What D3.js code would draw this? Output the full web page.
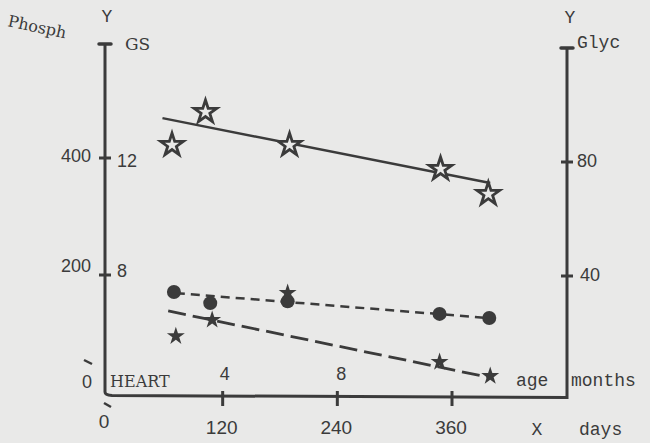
<!DOCTYPE html>
<html>
<head>
<meta charset="utf-8">
<script src="https://cdn.jsdelivr.net/npm/d3@7"></script>
<style>
  body { margin: 0; background: #e9e9e8; }
  svg { display: block; }
</style>
</head>
<body>
<script>
// values (x in days)
let openStarDays = [67, 102, 190, 348, 398];
let openStarGlyc = [86.3, 97.9, 86.3, 77.9, 69.1];
let openLineDays = [57, 400];
let openLineGlyc = [95.4, 72.6];

let dotDays = [69, 107, 188, 347, 399];
let dotGS = [7.42, 7.04, 7.1, 6.67, 6.53];
let dotLineDays = [71, 398];
let dotLineGS = [7.38, 6.53];

let starDays = [71, 109, 188, 347, 400];
let starPhosph = [97, 125, 171, 53, 29];
let starLineDays = [63, 402];
let starLinePhosph = [138.5, 23.9];

let dayTicks = [120, 240, 360];
let monthTicks = [4, 8];
let phosphTicks = [200, 400];
let gsTicks = [8, 12];
let glycTicks = [40, 80];

let width = 650, height = 443;
let ink = "#3b3b3b";
let bg = "#e9e9e8";

let svg = d3.select("body").append("svg")
  .attr("width", width)
  .attr("height", height);

svg.append("rect").attr("width", width).attr("height", height).attr("fill", bg);

//scales
let x = d3.scaleLinear().domain([0, 360]).range([108, 452]);
let xMonths = d3.scaleLinear().domain([0, 12]).range([108, 458]);
let yPhosph = d3.scaleLinear().domain([0, 400]).range([392, 158]);
let yGS = d3.scaleLinear().domain([8, 12]).range([275, 158]);
let yGlyc = d3.scaleLinear().domain([0, 80]).range([390, 162]);

let leftX = 105, rightX = 567;

//axis frame
svg.append("path")
  .attr("d", "M" + leftX + ",44 L" + leftX + ",392 Q" + leftX + ",395 112,395.5 L" + rightX + ",397.5 L" + rightX + ",48")
  .attr("fill", "none")
  .attr("stroke", ink)
  .attr("stroke-width", 3);

svg.append("line").attr("x1", leftX - 6).attr("x2", leftX + 6).attr("y1", 44).attr("y2", 44)
  .attr("stroke", ink).attr("stroke-width", 3.5).attr("stroke-linecap", "round");
svg.append("line").attr("x1", rightX - 6).attr("x2", rightX + 6).attr("y1", 48).attr("y2", 48)
  .attr("stroke", ink).attr("stroke-width", 3.5).attr("stroke-linecap", "round");

//axis break marks
svg.append("line").attr("x1", 84).attr("y1", 360).attr("x2", 92).attr("y2", 364)
  .attr("stroke", ink).attr("stroke-width", 2.5);
svg.append("line").attr("x1", 104).attr("y1", 403).attr("x2", 111).attr("y2", 407)
  .attr("stroke", ink).attr("stroke-width", 2.5);

//bottom ticks
svg.selectAll(".xtick").data(dayTicks).enter().append("line")
  .attr("class", "xtick")
  .attr("x1", d => x(d)).attr("x2", d => x(d))
  .attr("y1", 391).attr("y2", 406)
  .attr("stroke", ink).attr("stroke-width", 3);

svg.selectAll(".xlab").data([0, ...dayTicks]).enter().append("text")
  .attr("class", "xlab")
  .attr("x", d => d == 0 ? 104 : x(d) - 1)
  .attr("y", d => d == 0 ? 428 : 434)
  .attr("text-anchor", "middle")
  .style("font", "19px 'Liberation Sans'")
  .style("fill", ink)
  .text(d => d);

svg.selectAll(".mlab").data(monthTicks).enter().append("text")
  .attr("class", "mlab")
  .attr("x", d => xMonths(d))
  .attr("y", 380)
  .attr("text-anchor", "middle")
  .style("font", "18px 'Liberation Sans'")
  .style("fill", ink)
  .text(d => d);

//left ticks
svg.selectAll(".ltick").data(phosphTicks).enter().append("line")
  .attr("class", "ltick")
  .attr("x1", leftX - 6).attr("x2", leftX + 6)
  .attr("y1", d => yPhosph(d)).attr("y2", d => yPhosph(d))
  .attr("stroke", ink).attr("stroke-width", 3);

svg.selectAll(".plab").data(phosphTicks).enter().append("text")
  .attr("class", "plab")
  .attr("x", 91)
  .attr("y", d => yPhosph(d) + (d == 400 ? 4 : -3))
  .attr("text-anchor", "end")
  .style("font", "18px 'Liberation Sans'")
  .style("fill", ink)
  .text(d => d);

svg.selectAll(".glab").data(gsTicks).enter().append("text")
  .attr("class", "glab")
  .attr("x", 117)
  .attr("y", d => yGS(d) + (d == 12 ? 9 : 2))
  .style("font", "18px 'Liberation Sans'")
  .style("fill", ink)
  .text(d => d);

//right ticks
svg.selectAll(".rtick").data(glycTicks).enter().append("line")
  .attr("class", "rtick")
  .attr("x1", rightX - 6).attr("x2", rightX + 6)
  .attr("y1", d => yGlyc(d)).attr("y2", d => yGlyc(d))
  .attr("stroke", ink).attr("stroke-width", 3);

svg.selectAll(".ylab").data(glycTicks).enter().append("text")
  .attr("class", "ylab")
  .attr("x", d => d == 80 ? 577 : 580)
  .attr("y", d => yGlyc(d) + 5)
  .style("font", "18px 'Liberation Sans'")
  .style("fill", ink)
  .text(d => d);

//axis titles
let mono = "18px 'Liberation Mono'";
let slab = "17px 'DejaVu Serif'";
let labels = [
  { t: "Y", x: 107, y: 22, f: mono, a: "middle" },
  { t: "Y", x: 570, y: 23, f: mono, a: "middle" },
  { t: "GS", x: 125, y: 50, f: slab, a: "start" },
  { t: "Glyc", x: 577, y: 48, f: mono, a: "start" },
  { t: "0", x: 87, y: 388, f: "18px 'Liberation Sans'", a: "middle" },
  { t: "HEART", x: 110, y: 387, f: "16px 'DejaVu Serif'", a: "start" },
  { t: "age", x: 516, y: 386, f: mono, a: "start" },
  { t: "months", x: 571, y: 386, f: mono, a: "start" },
  { t: "X", x: 537, y: 435, f: mono, a: "middle" },
  { t: "days", x: 579, y: 435, f: mono, a: "start" }
];
svg.selectAll(".lbl").data(labels).enter().append("text")
  .attr("class", "lbl")
  .attr("x", d => d.x).attr("y", d => d.y)
  .attr("text-anchor", d => d.a)
  .style("font", d => d.f)
  .style("fill", ink)
  .text(d => d.t);

svg.append("text")
  .attr("transform", "translate(7,26) rotate(12)")
  .style("font", "16px 'DejaVu Serif'")
  .style("fill", ink)
  .text("Phosph");

//fit lines
let line = (xs, ys, yScale) => d3.line()(xs.map((d, i) => [x(d), yScale(ys[i])]));

svg.append("path").attr("d", line(openLineDays, openLineGlyc, yGlyc))
  .attr("stroke", ink).attr("stroke-width", 2.5).attr("fill", "none");
svg.append("path").attr("d", line(dotLineDays, dotLineGS, yGS))
  .attr("stroke", ink).attr("stroke-width", 2.5).attr("fill", "none")
  .attr("stroke-dasharray", "9,6");
svg.append("path").attr("d", line(starLineDays, starLinePhosph, yPhosph))
  .attr("stroke", ink).attr("stroke-width", 2.8).attr("fill", "none")
  .attr("stroke-dasharray", "18,7");

//markers
let bigStar = d3.symbol().type(d3.symbolStar).size(160);
let smallStar = d3.symbol().type(d3.symbolStar).size(100);

svg.selectAll(".ostar").data(openStarDays).enter().append("path")
  .attr("class", "ostar")
  .attr("d", bigStar)
  .attr("transform", (d, i) => "translate(" + x(d) + "," + (yGlyc(openStarGlyc[i]) + 1) + ")")
  .attr("fill", bg)
  .attr("stroke", ink)
  .attr("stroke-width", 2.8)
  .attr("stroke-linejoin", "miter");

svg.selectAll(".dot").data(dotDays).enter().append("circle")
  .attr("class", "dot")
  .attr("cx", d => x(d))
  .attr("cy", (d, i) => yGS(dotGS[i]))
  .attr("r", 7)
  .attr("fill", ink);

svg.selectAll(".fstar").data(starDays).enter().append("path")
  .attr("class", "fstar")
  .attr("d", smallStar)
  .attr("transform", (d, i) => "translate(" + x(d) + "," + (yPhosph(starPhosph[i]) + 1) + ")")
  .attr("fill", ink);
</script>
</body>
</html>
